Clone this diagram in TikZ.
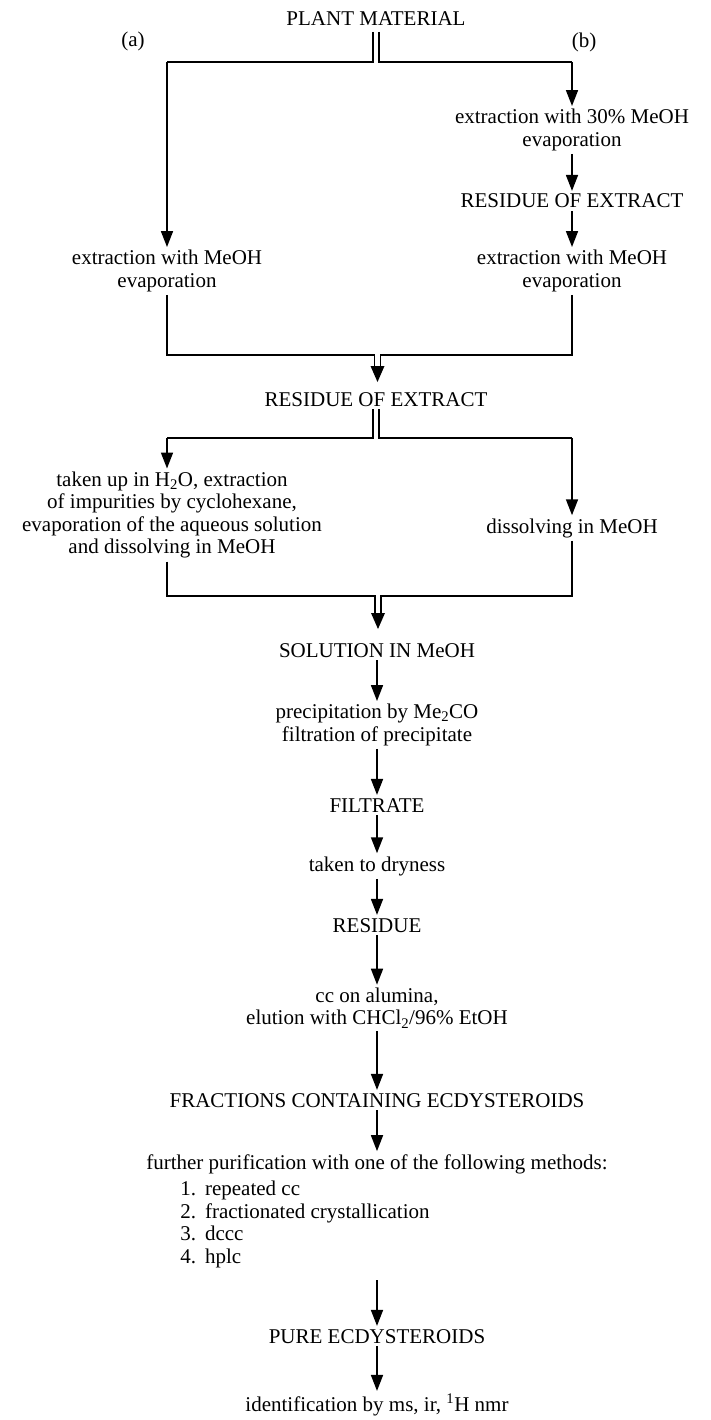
\documentclass[tikz,border=0pt]{standalone}
\usepackage{fontspec}
\setmainfont{Liberation Serif}
\usetikzlibrary{arrows.meta}
\begin{document}
\begin{tikzpicture}[x=1pt,y=-1pt,
  txt/.style={align=center,font=\fontsize{21}{22.5}\selectfont,inner sep=3pt},
  ln/.style={line width=1.7pt},
  arr/.style={ln,-{Triangle[width=12pt,length=16pt]}}]
\useasboundingbox (0,0) rectangle (711,1420);
% nodes
\node[txt,anchor=base] (pm) at (376,26) {PLANT MATERIAL};
\node[txt,anchor=base] (la) at (133,47) {(a)};
\node[txt,anchor=base] (lb) at (584,48) {(b)};
\node[txt] (b1) at (572,130) {extraction with 30\% MeOH\\evaporation};
\node[txt,anchor=base] (b2) at (572,208) {RESIDUE OF EXTRACT};
\node[txt] (b3) at (572,271) {extraction with MeOH\\evaporation};
\node[txt] (a1) at (167,271) {extraction with MeOH\\evaporation};
\node[txt,anchor=base] (r1) at (376,406) {RESIDUE OF EXTRACT};
\node[txt] (c1) at (172,515) {taken up in H\textsubscript{2}O, extraction\\of impurities by cyclohexane,\\evaporation of the aqueous solution\\and dissolving in MeOH};
\node[txt] (c2) at (572,528) {dissolving in MeOH};
\node[txt,anchor=base] (s1) at (377,657) {SOLUTION IN MeOH};
\node[txt] (p1) at (377,725) {precipitation by Me\textsubscript{2}CO\\filtration of precipitate};
\node[txt,anchor=base] (f1) at (377,812) {FILTRATE};
\node[txt] (d1) at (377,866) {taken to dryness};
\node[txt,anchor=base] (r2) at (377,932) {RESIDUE};
\node[txt] (cc) at (377,1008) {cc on alumina,\\elution with CHCl\textsubscript{2}/96\% EtOH};
\node[txt,anchor=base] (fr) at (377,1107) {FRACTIONS CONTAINING ECDYSTEROIDS};
\node[txt] (fp) at (377,1164) {further purification with one of the following methods:};
\node[txt,anchor=north west,align=left,inner sep=0pt] (ls) at ([xshift=37pt,yshift=-3pt]fp.south west)
  {\begin{tabular}{@{}r@{\hspace{9pt}}l@{}}
   1.&repeated cc\\ 2.&fractionated crystallication\\ 3.&dccc\\ 4.&hplc
   \end{tabular}};
\node[txt,anchor=base] (pe) at (377,1343) {PURE ECDYSTEROIDS};
\node[txt] (id) at (377,1405) {identification by ms, ir, \textsuperscript{1}H nmr};
% junction coordinates
\coordinate (ja) at (167,62);
\coordinate (jb) at (572,62);
\coordinate (m1l) at (374.5,355);
\coordinate (m1r) at (380.5,355);
\coordinate (t1) at (377.5,382);
\coordinate (sa) at (167,438);
\coordinate (sb) at (572,438);
\coordinate (m2l) at (375,596);
\coordinate (m2r) at (381,596);
\coordinate (t2) at (378,629);
% top split
\draw[ln] ([xshift=-3pt,yshift=-6pt]pm.base) |- (ja);
\draw[ln] ([xshift=3pt,yshift=-6pt]pm.base) |- (jb);
\draw[arr] (ja) -- (a1.north);
\draw[arr] (jb) -- (b1.north);
% right column
\draw[arr] (b1.south) -- (b2.north);
\draw[arr] (b2.south) -- (b3.north);
% first merge
\draw[ln] (a1.south) |- (m1l) -- ++(0,14);
\draw[ln] (b3.south) |- (m1r) -- ++(0,14);
\fill (t1) -- ++(-7,-16) -- ++(14,0) -- cycle;
% second split
\draw[ln] ([xshift=-3pt]r1.south) |- (sa);
\draw[ln] ([xshift=3pt]r1.south) |- (sb);
\draw[arr] (sa) -- (sa |- c1.north);
\draw[arr] (sb) -- (c2.north);
% second merge
\draw[ln] (sa |- c1.south) |- (m2l) -- ++(0,18);
\draw[ln] (c2.south) |- (m2r) -- ++(0,18);
\fill (t2) -- ++(-7,-16) -- ++(14,0) -- cycle;
% main column
\draw[arr] (s1.south) -- (p1.north);
\draw[arr] (p1.south) -- (f1.north);
\draw[arr] (f1.south) -- (d1.north);
\draw[arr] (d1.south) -- (r2.north);
\draw[arr] (r2.south) -- (cc.north);
\draw[arr] (cc.south) -- (fr.north);
\draw[arr] (fr.south) -- (fp.north);
\draw[arr] ([yshift=-10pt]ls.south -| fp.south) -- (pe.north);
\draw[arr] (pe.south) -- (id.north);
\end{tikzpicture}
\end{document}
